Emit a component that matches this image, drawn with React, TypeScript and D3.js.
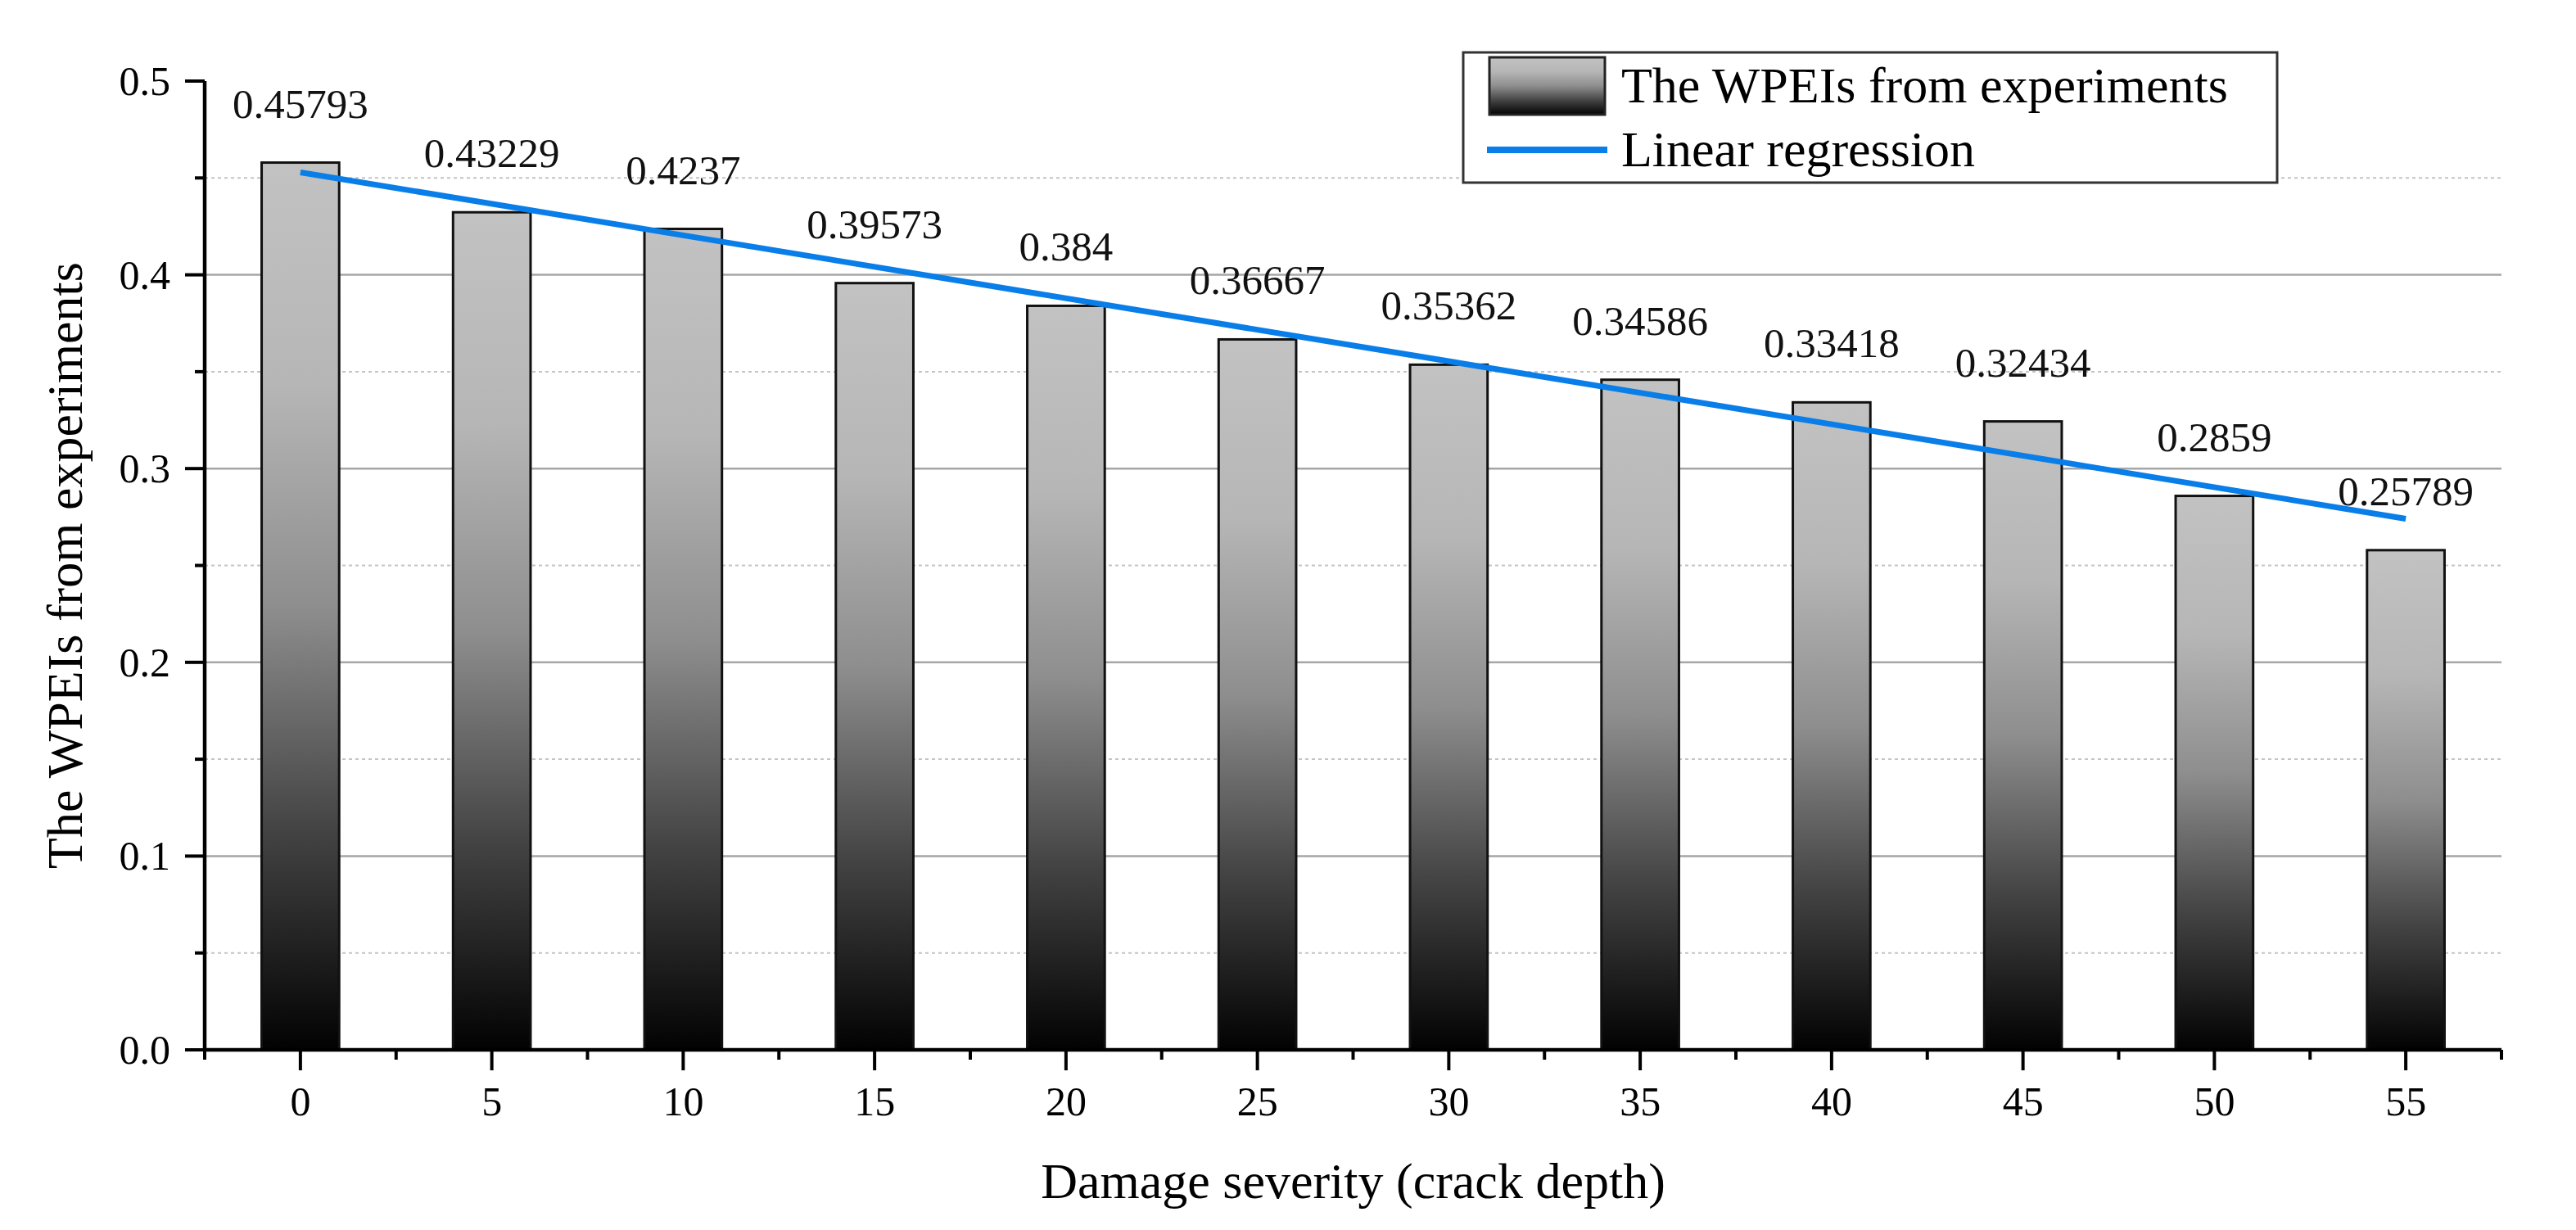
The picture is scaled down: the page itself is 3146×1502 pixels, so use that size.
import { useEffect, useRef } from "react";
import * as d3 from "d3";

const categories = ["0", "5", "10", "15", "20", "25", "30", "35", "40", "45", "50", "55"];
const wpeiValues = [
  0.45793, 0.43229, 0.4237, 0.39573, 0.384, 0.36667, 0.35362, 0.34586, 0.33418, 0.32434,
  0.2859, 0.25789,
];
const dataLabels = [
  "0.45793", "0.43229", "0.4237", "0.39573", "0.384", "0.36667", "0.35362", "0.34586",
  "0.33418", "0.32434", "0.2859", "0.25789",
];
const yMajorTicks = [0, 0.1, 0.2, 0.3, 0.4, 0.5];
const yMinorTicks = [0.05, 0.15, 0.25, 0.35, 0.45];
const legendLabels = ["The WPEIs from experiments", "Linear regression"];

const W = 3146;
const H = 1502;
const FONT = "'Liberation Serif', 'Times New Roman', serif";

export default function App() {
  const ref = useRef<SVGSVGElement | null>(null);

  useEffect(() => {
    document.body.style.margin = "0";
    const svg = d3.select(ref.current);
    svg.selectAll("*").remove();

    const left = 250;
    const right = 3055;
    const top = 99;
    const bottom = 1282;

    const x = d3
      .scaleBand()
      .domain(categories)
      .range([left, right])
      .paddingInner(0.595)
      .paddingOuter(0.2975);
    const y = d3.scaleLinear().domain([0, 0.5]).range([bottom, top]);
    const cx = (c: string) => (x(c) as number) + x.bandwidth() / 2;

    // gradient for bars
    const defs = svg.append("defs");
    const grad = defs
      .append("linearGradient")
      .attr("id", "barGrad")
      .attr("x1", 0)
      .attr("y1", 0)
      .attr("x2", 0)
      .attr("y2", 1);
    [
      [0, "#c2c2c2"],
      [0.25, "#b6b6b6"],
      [0.5, "#8e8e8e"],
      [0.75, "#444444"],
      [1, "#020202"],
    ].forEach(([o, c]) =>
      grad.append("stop").attr("offset", o as number).attr("stop-color", c as string),
    );

    svg.append("rect").attr("width", W).attr("height", H).attr("fill", "#fff");

    // grid lines
    svg
      .append("g")
      .selectAll("line")
      .data(yMinorTicks)
      .enter()
      .append("line")
      .attr("x1", left)
      .attr("x2", right)
      .attr("y1", (d) => y(d))
      .attr("y2", (d) => y(d))
      .attr("stroke", "#c4c4c4")
      .attr("stroke-width", 2)
      .attr("stroke-dasharray", "4,4");
    svg
      .append("g")
      .selectAll("line")
      .data(yMajorTicks.filter((d) => d > 0 && d < 0.5))
      .enter()
      .append("line")
      .attr("x1", left)
      .attr("x2", right)
      .attr("y1", (d) => y(d))
      .attr("y2", (d) => y(d))
      .attr("stroke", "#a6a6a6")
      .attr("stroke-width", 2.5);

    // bars
    svg
      .append("g")
      .selectAll("rect")
      .data(wpeiValues)
      .enter()
      .append("rect")
      .attr("x", (_, i) => x(categories[i]) as number)
      .attr("y", (d) => y(d))
      .attr("width", x.bandwidth())
      .attr("height", (d) => y(0) - y(d))
      .attr("fill", "url(#barGrad)")
      .attr("stroke", "#111")
      .attr("stroke-width", 3);

    // linear regression over the bar values
    const idx = wpeiValues.map((_, i) => i);
    const mx = d3.mean(idx) as number;
    const my = d3.mean(wpeiValues) as number;
    const sxy = d3.sum(idx, (i) => (i - mx) * (wpeiValues[i] - my));
    const sxx = d3.sum(idx, (i) => (i - mx) * (i - mx));
    const slope = sxy / sxx;
    const fit = (i: number) => my + slope * (i - mx);
    const line = d3
      .line<number>()
      .x((i) => cx(categories[i]))
      .y((i) => y(fit(i)));
    svg
      .append("path")
      .datum([0, categories.length - 1])
      .attr("d", line)
      .attr("fill", "none")
      .attr("stroke", "#0a7ee8")
      .attr("stroke-width", 7);

    // data labels
    svg
      .append("g")
      .selectAll("text")
      .data(dataLabels)
      .enter()
      .append("text")
      .attr("x", (_, i) => cx(categories[i]))
      .attr("y", (_, i) => y(wpeiValues[i]) - 55)
      .attr("text-anchor", "middle")
      .style("font-family", FONT)
      .style("font-size", "51px")
      .style("fill", "#111")
      .text((d) => d);

    // axes
    const ax = svg.append("g").attr("stroke", "#000");
    ax.append("line")
      .attr("x1", left)
      .attr("x2", left)
      .attr("y1", top)
      .attr("y2", bottom + 2)
      .attr("stroke-width", 4.5);
    ax.append("line")
      .attr("x1", left - 2)
      .attr("x2", right)
      .attr("y1", bottom)
      .attr("y2", bottom)
      .attr("stroke-width", 4.5);

    ax.selectAll(".ymaj")
      .data(yMajorTicks)
      .enter()
      .append("line")
      .attr("x1", left - 24)
      .attr("x2", left)
      .attr("y1", (d) => y(d))
      .attr("y2", (d) => y(d))
      .attr("stroke-width", 4);
    ax.selectAll(".ymin")
      .data(yMinorTicks)
      .enter()
      .append("line")
      .attr("x1", left - 12)
      .attr("x2", left)
      .attr("y1", (d) => y(d))
      .attr("y2", (d) => y(d))
      .attr("stroke-width", 4);

    const edges = categories.map((c) => cx(c) - x.step() / 2);
    edges.push(right);
    ax.selectAll(".xmin")
      .data(edges)
      .enter()
      .append("line")
      .attr("x1", (d) => d)
      .attr("x2", (d) => d)
      .attr("y1", bottom)
      .attr("y2", bottom + 12)
      .attr("stroke-width", 4);
    ax.selectAll(".xmaj")
      .data(categories)
      .enter()
      .append("line")
      .attr("x1", (d) => cx(d))
      .attr("x2", (d) => cx(d))
      .attr("y1", bottom)
      .attr("y2", bottom + 25)
      .attr("stroke-width", 4);

    svg
      .append("g")
      .selectAll("text")
      .data(yMajorTicks)
      .enter()
      .append("text")
      .attr("x", left - 42)
      .attr("y", (d) => y(d))
      .attr("dy", "0.34em")
      .attr("text-anchor", "end")
      .style("font-family", FONT)
      .style("font-size", "50px")
      .text((d) => d3.format(".1f")(d));

    svg
      .append("g")
      .selectAll("text")
      .data(categories)
      .enter()
      .append("text")
      .attr("x", (d) => cx(d))
      .attr("y", 1362)
      .attr("text-anchor", "middle")
      .style("font-family", FONT)
      .style("font-size", "50px")
      .text((d) => d);

    // axis titles
    svg
      .append("text")
      .attr("x", (left + right) / 2)
      .attr("y", 1463)
      .attr("text-anchor", "middle")
      .style("font-family", FONT)
      .style("font-size", "62px")
      .text("Damage severity (crack depth)");
    svg
      .append("text")
      .attr("transform", `translate(100, ${(top + bottom) / 2}) rotate(-90)`)
      .attr("text-anchor", "middle")
      .style("font-family", FONT)
      .style("font-size", "62px")
      .text(legendLabels[0]);

    // legend
    const lg = svg.append("g");
    lg.append("rect")
      .attr("x", 1787)
      .attr("y", 64)
      .attr("width", 2781 - 1787)
      .attr("height", 223 - 64)
      .attr("fill", "#fff")
      .attr("stroke", "#333")
      .attr("stroke-width", 3);
    lg.append("rect")
      .attr("x", 1819)
      .attr("y", 70)
      .attr("width", 141)
      .attr("height", 70)
      .attr("fill", "url(#barGrad)")
      .attr("stroke", "#222")
      .attr("stroke-width", 3);
    lg.append("line")
      .attr("x1", 1816)
      .attr("x2", 1963)
      .attr("y1", 183)
      .attr("y2", 183)
      .attr("stroke", "#0a7ee8")
      .attr("stroke-width", 8);
    lg.selectAll("text")
      .data(legendLabels)
      .enter()
      .append("text")
      .attr("x", 1980)
      .attr("y", (_, i) => (i === 0 ? 125 : 203))
      .style("font-family", FONT)
      .style("font-size", "62px")
      .text((d) => d);
  }, []);

  return <svg ref={ref} width={W} height={H} style={{ display: "block" }} />;
}
